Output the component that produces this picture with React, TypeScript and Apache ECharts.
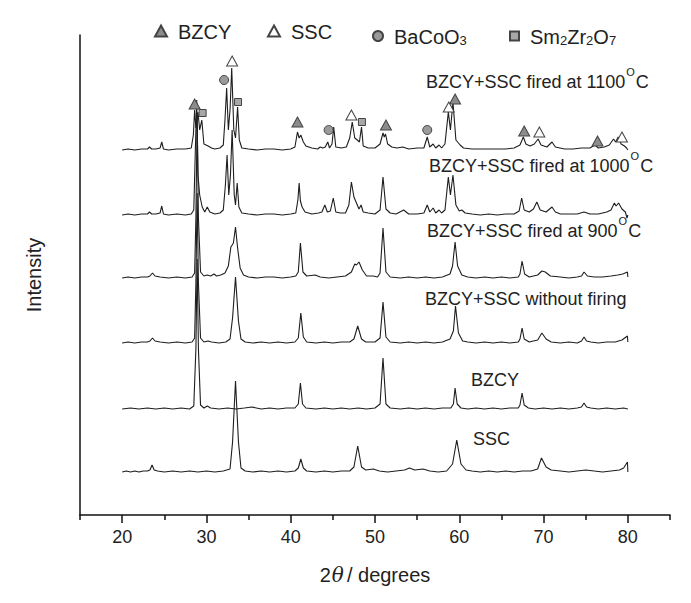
import React, { useEffect, useRef } from "react";
import * as echarts from "echarts";

// ---- axis ticks ----
const xMajorTicks = [20, 30, 40, 50, 60, 70, 80];
const xMinorTicks = [15, 25, 35, 45, 55, 65, 75, 85];

// ---- trace names, vertical offsets (stacked display) ----
const traceNames = ["SSC pattern", "BZCY pattern", "BZCY+SSC without firing", "BZCY+SSC fired at 900", "BZCY+SSC fired at 1000", "BZCY+SSC fired at 1100"];
const traceOffsets = [43, 106, 172, 237, 300, 365];

// ---- patterns: [2theta, intensity above own baseline] ----
const sscPattern = [
  [20, 0], [20.5, 1], [21, 0], [21.5, 1], [22, 0], [22.5, 1], [23, 1], [23.3, 2], [23.55, 7], [23.8, 2], [24.2, 1], [25, 0], [26, 1], [27, 0], [28, 1], [29, 0], [30, 1], [31, 0], [32, 1], [32.8, 3], [33.1, 30], [33.45, 91], [33.8, 30], [34.1, 4], [34.6, 1], [35.5, 0], [36.5, 1], [37.5, 0], [38.5, 1], [39.5, 0], [40.5, 1], [40.9, 4], [41.2, 13], [41.5, 4], [41.9, 1], [43, 0], [44, 1], [45, 0], [46, 1], [47, 1], [47.5, 5], [47.95, 26], [48.4, 5], [48.9, 2], [49.8, 3], [50.5, 1], [51.5, 0], [52.5, 1], [53.5, 2], [54.1, 4], [54.7, 2], [55.7, 3], [56.5, 1], [57.5, 0], [58.5, 1], [59.2, 8], [59.7, 32], [60.2, 8], [60.8, 2], [61.5, 1], [62.5, 0], [63.5, 1], [64.5, 0], [65.5, 1], [66.5, 0], [67.5, 1], [68.5, 1], [69.3, 3], [69.75, 14], [70.3, 5], [70.9, 2], [72, 1], [73, 0], [74, 1], [75, 2], [76, 1], [77, 0], [78, 1], [79, 2], [79.5, 4], [79.95, 10], [80, 0],
];
const bzcyPattern = [
  [20, 0], [21, 1], [22, 0], [23, 1], [24, 0], [25, 1], [26, 0], [27, 1], [28, 0], [28.5, 3], [28.75, 60], [28.9, 150], [29.05, 60], [29.3, 4], [29.7, 1], [30.1, 3], [30.5, 1], [31.5, 0], [32.5, 1], [33.5, 0], [34.5, 1], [35.4, 2], [36.5, 0], [37.5, 1], [38.5, 0], [39.5, 1], [40.5, 1], [40.9, 5], [41.15, 26], [41.4, 5], [41.8, 1], [43, 0], [44, 1], [45, 0], [46, 1], [47, 0], [48, 1], [49, 0], [50, 1], [50.6, 5], [50.95, 51], [51.3, 5], [51.8, 1], [53, 0], [54, 1], [55, 0], [56, 1], [57, 0], [58, 1], [59, 1], [59.3, 5], [59.5, 21], [59.75, 5], [60.2, 1], [61, 0], [62, 1], [63, 0], [64, 1], [65, 0], [66, 1], [67, 1], [67.2, 4], [67.45, 16], [67.7, 4], [68.2, 1], [69, 0], [70, 1], [71, 0], [72, 1], [73, 0], [74, 1], [74.5, 2], [74.8, 6], [75.1, 2], [75.6, 1], [76.5, 0], [77.5, 1], [78.5, 0], [79.5, 1], [80, 0],
];
const unfiredPattern = [
  [20, 0], [20.7, 1], [21.5, 0], [22.3, 1], [23, 1], [23.3, 2], [23.6, 5], [23.9, 2], [24.5, 1], [25.5, 0], [26.5, 1], [27.5, 0], [28.3, 1], [28.6, 5], [28.75, 60], [28.9, 150], [29.05, 60], [29.3, 5], [29.7, 1], [30.2, 2], [30.6, 1], [31.5, 0], [32.3, 1], [32.8, 4], [33.1, 25], [33.45, 66], [33.8, 22], [34.1, 4], [34.6, 1], [35.5, 0], [36.5, 1], [37.5, 0], [38.5, 1], [39.5, 0], [40.5, 1], [40.9, 5], [41.2, 30], [41.5, 6], [41.9, 1], [43, 0], [44, 1], [45, 0], [46, 1], [47, 1], [47.5, 4], [47.95, 17], [48.4, 4], [48.9, 1], [50, 1], [50.6, 5], [50.95, 41], [51.3, 6], [51.8, 1], [53, 0], [54, 1], [55, 0], [56, 1], [57, 0], [58, 1], [58.9, 4], [59.3, 12], [59.55, 37], [59.9, 10], [60.4, 2], [61, 1], [62, 0], [63, 1], [64, 0], [65, 1], [66, 0], [67, 1], [67.2, 4], [67.45, 15], [67.7, 4], [68.3, 1], [69.3, 3], [69.8, 10], [70.3, 4], [70.9, 1], [72, 0], [73, 1], [74, 0], [74.5, 2], [74.8, 6], [75.1, 2], [75.6, 1], [76.5, 0], [77.5, 1], [78.5, 1], [79.3, 3], [79.95, 7], [80, 1],
];
const fired900Pattern = [
  [20, 0], [20.7, 1], [21.5, 0], [22.3, 1], [23, 1], [23.3, 2], [23.6, 5], [23.9, 2], [24.5, 1], [25.5, 0], [26.5, 1], [27.5, 0], [28.3, 1], [28.6, 5], [28.75, 60], [28.9, 165], [29.05, 60], [29.3, 6], [29.7, 2], [30.1, 3], [30.5, 2], [30.9, 4], [31.2, 2], [31.7, 3], [32.2, 5], [32.6, 12], [32.9, 31], [33.2, 35], [33.45, 51], [33.7, 30], [34.0, 10], [34.4, 3], [35, 1], [36, 0], [37, 1], [38, 1], [39, 0], [40, 1], [40.6, 2], [40.9, 6], [41.15, 35], [41.45, 6], [41.9, 2], [42.9, 3], [43.5, 1], [44.5, 0], [45.5, 1], [46.5, 2], [47.2, 6], [47.6, 14], [47.8, 13], [48.1, 16], [48.5, 8], [49, 2], [49.8, 2], [50.3, 1], [50.6, 5], [50.95, 50], [51.3, 6], [51.8, 1], [53, 0], [54, 1], [55, 0], [56, 1], [57, 0], [58, 1], [58.9, 4], [59.2, 12], [59.5, 36], [59.8, 12], [60.3, 3], [61, 1], [62, 0], [63, 1], [64, 0], [65, 1], [66, 0], [67, 1], [67.2, 4], [67.45, 17], [67.75, 4], [68.3, 1], [69.3, 3], [69.8, 7], [70.2, 6], [70.8, 2], [72, 1], [73, 0], [74, 1], [74.5, 2], [74.8, 6], [75.2, 2], [76, 1], [77, 1], [78, 2], [78.8, 3], [79.4, 4], [79.95, 6], [80, 1],
];
const fired1000Pattern = [
  [20, 0], [20.7, 1], [21.5, 0], [22.3, 1], [23, 1], [23.25, 3], [23.5, 1], [24, 1], [24.5, 2], [24.7, 9], [24.9, 1], [25.5, 0], [26.5, 1], [27.5, 0], [28.2, 1], [28.5, 5], [28.7, 70], [28.85, 115], [29.0, 40], [29.2, 20], [29.5, 8], [29.8, 3], [30.1, 8], [30.4, 3], [31, 1], [31.6, 2], [32.0, 5], [32.25, 30], [32.45, 60], [32.65, 20], [32.85, 40], [33.05, 85], [33.3, 20], [33.45, 10], [33.65, 32], [33.85, 8], [34.2, 2], [35, 1], [36, 0], [37, 1], [38, 1], [39, 0], [40, 1], [40.6, 2], [40.85, 15], [41.0, 32], [41.15, 14], [41.35, 8], [41.7, 3], [42.5, 1], [43.3, 2], [43.7, 3], [44.05, 10], [44.35, 3], [44.7, 4], [45.05, 17], [45.35, 3], [45.9, 2], [46.5, 2], [46.9, 10], [47.2, 33], [47.5, 18], [47.8, 12], [48.1, 6], [48.35, 10], [48.6, 3], [49.2, 2], [50, 1], [50.6, 5], [50.95, 38], [51.3, 6], [51.8, 2], [52.5, 1], [53.4, 5], [54, 1], [55, 1], [55.8, 2], [56.2, 10], [56.5, 3], [56.9, 7], [57.2, 2], [57.6, 5], [57.9, 2], [58.3, 5], [58.7, 38], [58.95, 20], [59.25, 40], [59.6, 10], [60.0, 4], [60.3, 5], [60.7, 2], [61.5, 1], [62.5, 0], [63.5, 1], [64.5, 0], [65.5, 1], [66.5, 1], [67.1, 4], [67.4, 17], [67.7, 5], [68.3, 3], [68.8, 6], [69.2, 13], [69.6, 5], [70.3, 3], [71.0, 8], [71.4, 3], [72, 1], [73, 1], [74, 1], [74.8, 3], [75.5, 1], [76.5, 1], [77.5, 3], [78.0, 5], [78.4, 12], [78.6, 9], [78.9, 12], [79.3, 6], [79.7, 3], [79.9, -3], [80, 0],
];
const fired1100Pattern = [
  [20, 0], [20.7, 1], [21.5, 0], [22.3, 1], [23, 1], [23.25, 3], [23.5, 1], [24, 1], [24.5, 2], [24.7, 8], [24.9, 1], [25.5, 0], [26.5, 1], [27.5, 1], [28.2, 2], [28.45, 15], [28.6, 40], [28.75, 22], [29.0, 38], [29.2, 20], [29.45, 30], [29.7, 6], [30.2, 4], [30.6, 2], [31, 1], [31.6, 2], [32.0, 5], [32.2, 30], [32.4, 62], [32.6, 20], [32.8, 40], [33.0, 82], [33.25, 20], [33.45, 12], [33.7, 43], [33.9, 10], [34.2, 2], [35, 1], [36, 0], [37, 1], [38, 1], [39, 0], [40, 1], [40.5, 3], [40.8, 18], [41.0, 12], [41.2, 15], [41.5, 8], [41.8, 4], [42.5, 2], [43.2, 1], [43.5, 3], [43.8, 2], [44.1, 3], [44.4, 8], [44.6, 2], [44.9, 6], [45.1, 23], [45.35, 3], [46, 2], [46.6, 3], [47.0, 12], [47.3, 28], [47.6, 12], [47.9, 10], [48.15, 8], [48.4, 23], [48.6, 4], [49.2, 2], [50, 2], [50.6, 6], [50.95, 17], [51.1, 13], [51.25, 16], [51.5, 6], [52, 3], [52.6, 2], [53.3, 3], [54, 1], [55, 2], [55.8, 2], [56.2, 13], [56.5, 3], [56.9, 6], [57.2, 2], [57.6, 5], [57.9, 2], [58.3, 6], [58.7, 38], [58.95, 20], [59.25, 48], [59.6, 10], [60.1, 5], [60.5, 2], [61.5, 1], [62.5, 1], [63.5, 1], [64.5, 1], [65.5, 1], [66.5, 2], [67.2, 5], [67.6, 13], [67.9, 6], [68.4, 4], [68.9, 6], [69.35, 11], [69.7, 5], [70.4, 3], [71.0, 8], [71.4, 3], [72.5, 1], [73.5, 1], [74.5, 2], [75.5, 2], [76.1, 5], [76.5, 2], [77.2, 3], [77.8, 5], [78.3, 11], [78.55, 8], [78.85, 13], [79.2, 6], [79.6, 4], [79.85, 2], [80, 0],
];
const patterns = [sscPattern, bzcyPattern, unfiredPattern, fired900Pattern, fired1000Pattern, fired1100Pattern];

// ---- phase markers on the 1100 °C trace: [2theta, height above that baseline] ----
const bzcyMarks = [[28.6, 46], [40.8, 28], [51.3, 25], [59.5, 51], [67.7, 19], [76.4, 9]];
const sscMarks = [[33.05, 89], [47.2, 35], [58.75, 43], [69.5, 18], [79.3, 13]];
const bacoMarks = [[32.1, 70], [44.5, 20], [56.2, 20]];
const smzrMarks = [[29.55, 37], [33.75, 48], [48.45, 28]];
const markerOffset = traceOffsets[5];

const FONT = "'Liberation Sans', Arial, Helvetica, sans-serif";
const INK = "#222";

const legendRich = {
  n: { fontSize: 20, fontFamily: FONT, color: INK, lineHeight: 22, verticalAlign: "bottom" },
  s: { fontSize: 13, fontFamily: FONT, color: INK, lineHeight: 13, padding: [12, 0, 0, 0], verticalAlign: "bottom" },
};
const legendText: Record<string, string> = {
  BZCY: "{n|BZCY}",
  SSC: "{n|SSC}",
  BaCoO3: "{n|BaCoO}{s|3}",
  Sm2Zr2O7: "{n|Sm}{s|2}{n|Zr}{s|2}{n|O}{s|7}",
};

const labelRich = {
  t: { fontSize: 18, fontFamily: FONT, fill: INK, lineHeight: 20, verticalAlign: "bottom" },
  o: { fontSize: 11, fontFamily: FONT, fill: INK, lineHeight: 11, padding: [0, 1, 14, 1], verticalAlign: "bottom" },
};
const traceLabels = [
  { text: "{t|SSC}", x: 473, y: 438 },
  { text: "{t|BZCY}", x: 471, y: 379 },
  { text: "{t|BZCY+SSC without firing}", x: 425, y: 298 },
  { text: "{t|BZCY+SSC fired at 900}{o|O}{t|C}", x: 427, y: 230 },
  { text: "{t|BZCY+SSC fired at 1000}{o|O}{t|C}", x: 429, y: 165 },
  { text: "{t|BZCY+SSC fired at 1100}{o|O}{t|C}", x: 426, y: 81 },
];

function buildOption() {
  const lineSeries = patterns.map((p, i) => ({
    name: traceNames[i],
    type: "line",
    xAxisIndex: 0,
    yAxisIndex: 0,
    data: p.map(([x, y]) => [x, y + traceOffsets[i]]),
    showSymbol: false,
    symbol: "none",
    lineStyle: { color: "#1e1e1e", width: 1.1 },
    silent: true,
    z: 2,
  }));
  const mk = (name: string, marks: number[][], symbol: string, size: any, fill: string) => ({
    name,
    type: "scatter",
    xAxisIndex: 0,
    yAxisIndex: 0,
    data: marks.map(([x, y]) => [x, y + markerOffset]),
    symbol,
    symbolSize: size,
    itemStyle: { color: fill, borderColor: "#444", borderWidth: 1, opacity: 1 },
    silent: true,
    z: 5,
  });
  const legendCommon = {
    top: 17,
    itemWidth: 12,
    itemHeight: 11,
    itemGap: 0,
    selectedMode: false,
    formatter: (name: string) => legendText[name] || name,
    textStyle: { fontSize: 20, fontFamily: FONT, color: INK, rich: legendRich, padding: [0, 0, 0, 6] },
  };
  return {
    animation: false,
    backgroundColor: "#ffffff",
    grid: { left: 80, right: 21, top: 35, bottom: 88, containLabel: false },
    legend: [
      { ...legendCommon, data: ["BZCY"], left: 149 },
      { ...legendCommon, data: ["SSC"], left: 262 },
      { ...legendCommon, data: ["BaCoO3"], left: 367, itemWidth: 10, itemHeight: 10 },
      { ...legendCommon, data: ["Sm2Zr2O7"], left: 504, itemWidth: 9, itemHeight: 9 },
    ],
    xAxis: [
      {
        type: "value",
        min: 15,
        max: 85,
        name: "{n|2}{i|θ}{n|/ degrees}",
        nameLocation: "middle",
        nameGap: 50,
        nameTextStyle: {
          rich: {
            n: { fontSize: 20, fontFamily: FONT, color: INK },
            i: { fontSize: 20, fontFamily: "'DejaVu Serif', serif", fontStyle: "italic", color: INK, padding: [0, 3, 0, 1] },
          },
        },
        axisLine: { show: true, lineStyle: { color: "#111", width: 1.5 } },
        axisTick: { show: true, inside: false, length: 8, customValues: xMajorTicks, lineStyle: { color: "#111", width: 1.5 } },
        axisLabel: { show: true, customValues: xMajorTicks, fontSize: 18, fontFamily: FONT, color: INK, margin: 13 },
        splitLine: { show: false },
      },
      {
        type: "value",
        min: 15,
        max: 85,
        position: "bottom",
        axisLine: { show: false },
        axisTick: { show: true, inside: false, length: 5, customValues: xMinorTicks, lineStyle: { color: "#111", width: 1.5 } },
        axisLabel: { show: false },
        splitLine: { show: false },
      },
    ],
    yAxis: {
      type: "value",
      min: 0,
      max: 480,
      name: "Intensity",
      nameLocation: "middle",
      nameGap: 36,
      nameRotate: 90,
      nameTextStyle: { fontSize: 20, fontFamily: FONT, color: INK },
      axisLine: { show: true, lineStyle: { color: "#111", width: 1.5 } },
      axisTick: { show: false },
      axisLabel: { show: false },
      splitLine: { show: false },
    },
    series: [
      ...lineSeries,
      mk("BZCY", bzcyMarks, "triangle", [11, 10], "#8c8c8c"),
      mk("SSC", sscMarks, "triangle", [11, 10], "#ffffff"),
      mk("BaCoO3", bacoMarks, "circle", 9, "#9a9a9a"),
      mk("Sm2Zr2O7", smzrMarks, "rect", 7, "#a8a8a8"),
    ],
    graphic: traceLabels.map((l) => ({
      type: "text",
      x: l.x,
      y: l.y,
      silent: true,
      style: {
        text: l.text,
        rich: labelRich,
        fill: INK,
        fontSize: 18,
        fontFamily: FONT,
        verticalAlign: "middle",
        align: "left",
      },
      z: 10,
    })),
  };
}

export default function App() {
  const ref = useRef<HTMLDivElement>(null);
  useEffect(() => {
    if (!ref.current) return;
    const chart = echarts.init(ref.current, null, { renderer: "svg" });
    chart.setOption(buildOption() as any);
    return () => chart.dispose();
  }, []);
  return <div ref={ref} style={{ position: "absolute", left: 0, top: 0, width: 691, height: 603, background: "#fff" }} />;
}
